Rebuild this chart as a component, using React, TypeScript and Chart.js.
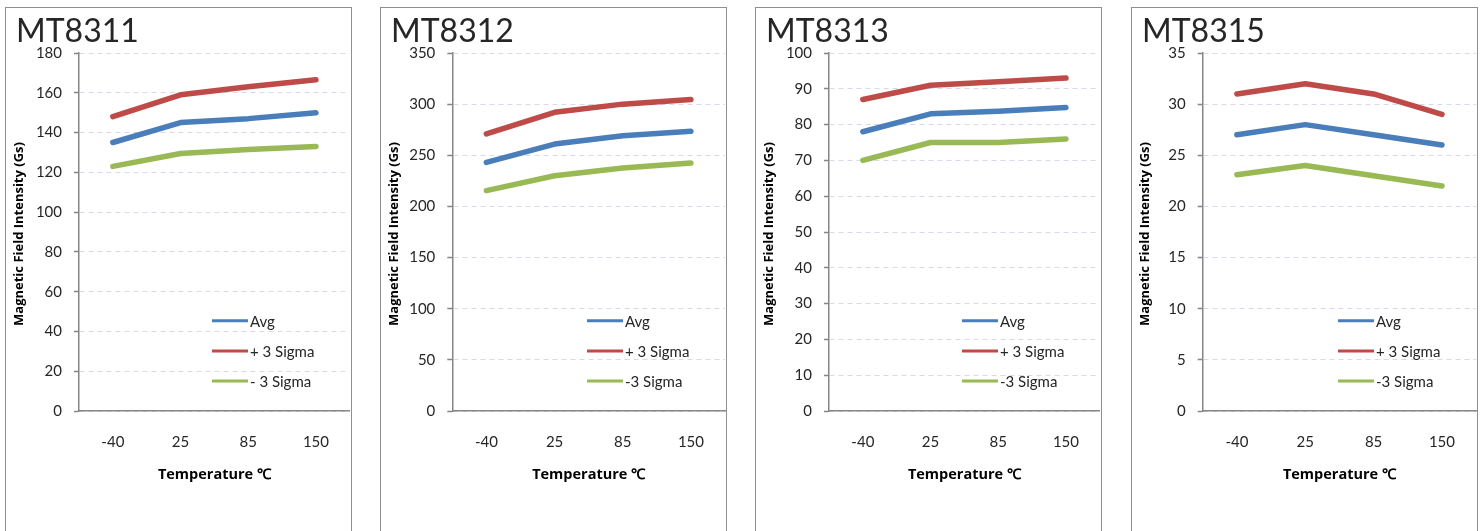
import React, { useEffect, useRef } from "react";
import { Chart, registerables } from "chart.js";

Chart.register(...registerables);

// ---------- data ----------
const temperatures = ["-40", "25", "85", "150"];
const panelTitles = ["MT8311", "MT8312", "MT8313", "MT8315"];
const seriesNames = ["Avg", "+ 3 Sigma", "-3 Sigma"];
const seriesNamesFirst = ["Avg", "+ 3 Sigma", "- 3 Sigma"];

const mt8311Avg = [135, 145, 147, 150];
const mt8311Plus = [148, 159, 163, 166.5];
const mt8311Minus = [123, 129.5, 131.5, 133];

const mt8312Avg = [243, 261, 269, 273.5];
const mt8312Plus = [271, 292, 300, 304.5];
const mt8312Minus = [215.5, 230, 237.5, 242.5];

const mt8313Avg = [78, 83, 83.7, 84.8];
const mt8313Plus = [87, 91, 92, 93];
const mt8313Minus = [70, 75, 75, 76];

const mt8315Avg = [27, 28, 27, 26];
const mt8315Plus = [31, 32, 31, 29];
const mt8315Minus = [23.1, 24, 23, 22];

const yMaxes = [180, 350, 100, 35];
const ySteps = [20, 50, 10, 5];

const seriesColors = ["#4A7EBB", "#BE4B48", "#98B954"];

const yAxisTitle = "Magnetic Field Intensity (Gs)";
const xAxisTitle = "Temperature ℃";

// ---------- layout ----------
const panelLefts = [5, 380, 755, 1131];
const axisXs = [73, 71.3, 73, 70.7];
const CANVAS_W = 345;
const CANVAS_H = 523;
const FONT = "Lato";
const TITLE_FONT = "'Open Sans'";
const TEXT = "#262626";

type PanelProps = {
  index: number;
  title: string;
  names: string[];
  series: number[][];
  yMax: number;
  yStep: number;
};

function Panel({ index, title, names, series, yMax, yStep }: PanelProps) {
  const ref = useRef<HTMLCanvasElement | null>(null);

  useEffect(() => {
    if (!ref.current) return;
    const axisX = axisXs[index];

    const decor = {
      id: "decor",
      afterDraw(chart: any) {
        const ctx = chart.ctx as CanvasRenderingContext2D;
        const area = chart.chartArea;
        ctx.save();
        // chart title
        ctx.fillStyle = TEXT;
        ctx.font = `32px ${FONT}`;
        ctx.textAlign = "left";
        ctx.textBaseline = "alphabetic";
        ctx.fillText(title, 10, 34);

        // y axis title
        ctx.save();
        ctx.translate(13.5, 226);
        ctx.rotate(-Math.PI / 2);
        ctx.font = `bold 13px ${TITLE_FONT}`;
        ctx.textAlign = "center";
        ctx.textBaseline = "middle";
        ctx.fillStyle = "#000";
        ctx.fillText(yAxisTitle, 0, 0);
        ctx.restore();

        // x axis title
        ctx.font = `bold 14.5px ${TITLE_FONT}`;
        ctx.textAlign = "center";
        ctx.textBaseline = "middle";
        ctx.fillStyle = "#000";
        ctx.fillText(xAxisTitle, (area.left + area.right) / 2, 467);

        // legend
        const rows = [312.7, 343, 373];
        chart.data.datasets.forEach((ds: any, i: number) => {
          const y = rows[i];
          ctx.strokeStyle = ds.borderColor;
          ctx.lineWidth = 3;
          ctx.lineCap = "butt";
          ctx.beginPath();
          ctx.moveTo(206, y);
          ctx.lineTo(242, y);
          ctx.stroke();
          ctx.fillStyle = TEXT;
          ctx.font = `15px ${FONT}`;
          ctx.textAlign = "left";
          ctx.textBaseline = "middle";
          ctx.fillText(ds.label, 244, y + 1.5);
        });
        ctx.restore();
      },
    };

    const chart = new Chart(ref.current, {
      type: "line",
      data: {
        labels: temperatures,
        datasets: series.map((vals, i) => ({
          label: names[i],
          data: vals,
          borderColor: seriesColors[i],
          backgroundColor: seriesColors[i],
          borderWidth: 5.5,
          borderCapStyle: "round",
          borderJoinStyle: "round",
          pointRadius: 0,
          pointHoverRadius: 0,
          fill: false,
          tension: 0,
        })),
      },
      options: {
        responsive: false,
        animation: false,
        events: [],
        layout: { padding: { top: 45, left: 0, right: 0, bottom: 40 } },
        plugins: {
          legend: { display: false },
          tooltip: { enabled: false },
          title: { display: false },
        },
        scales: {
          x: {
            offset: true,
            grid: { display: false, drawTicks: false },
            border: { display: true, color: "#868686", width: 1.5 },
            ticks: {
              padding: 22,
              color: TEXT,
              font: { family: FONT, size: 15 },
              maxRotation: 0,
            },
            afterFit: (scale: any) => {
              scale.height = 80;
            },
          },
          y: {
            min: 0,
            max: yMax,
            ticks: {
              stepSize: yStep,
              padding: 12,
              color: TEXT,
              font: { family: FONT, size: 15 },
            },
            grid: {
              color: "#D5DCE8",
              lineWidth: 1,
              drawTicks: true,
              tickLength: 5,
              tickColor: "#868686",
              tickWidth: 1.5,
              tickBorderDash: [],
            },
            border: { display: true, color: "#868686", width: 1.5, dash: [5, 4] },
            afterFit: (scale: any) => {
              scale.width = axisX;
            },
          },
        },
      },
      plugins: [decor],
    } as any);

    return () => chart.destroy();
  }, [index, title, names, series, yMax, yStep]);

  return (
    <div
      style={{
        position: "absolute",
        left: panelLefts[index],
        top: 7,
        width: CANVAS_W,
        height: 540,
        border: "1px solid #8F8F8F",
        background: "#fff",
      }}
    >
      <canvas
        ref={ref}
        width={CANVAS_W}
        height={CANVAS_H}
        style={{ position: "absolute", left: 0, top: 0, width: CANVAS_W, height: CANVAS_H }}
      />
    </div>
  );
}

export default function App() {
  const allSeries = [
    [mt8311Avg, mt8311Plus, mt8311Minus],
    [mt8312Avg, mt8312Plus, mt8312Minus],
    [mt8313Avg, mt8313Plus, mt8313Minus],
    [mt8315Avg, mt8315Plus, mt8315Minus],
  ];
  return (
    <div
      style={{
        position: "absolute",
        left: 0,
        top: 0,
        width: 1482,
        height: 531,
        overflow: "hidden",
        background: "#fff",
      }}
    >
      {panelTitles.map((t, i) => (
        <Panel
          key={t}
          index={i}
          title={t}
          names={i === 0 ? seriesNamesFirst : seriesNames}
          series={allSeries[i]}
          yMax={yMaxes[i]}
          yStep={ySteps[i]}
        />
      ))}
    </div>
  );
}
